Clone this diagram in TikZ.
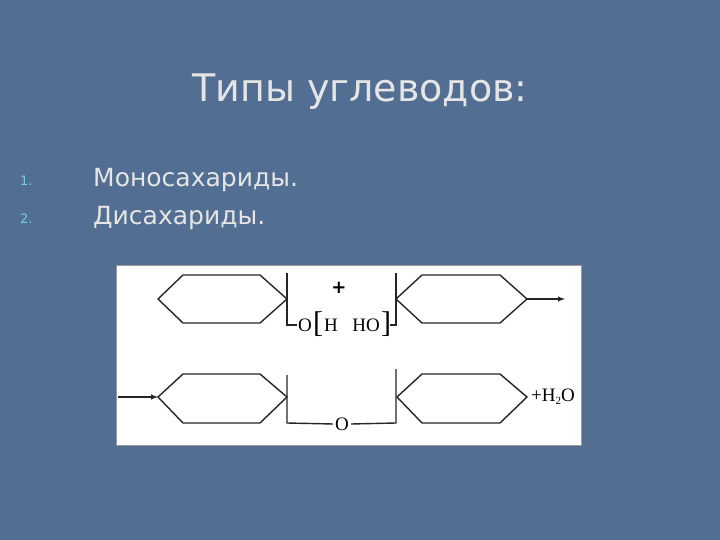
\documentclass[tikz,border=0pt]{standalone}
\usepackage{fontspec}
\setmainfont{DejaVu Sans}
\newfontfamily\serifchem{Liberation Serif}
\begin{document}
\begin{tikzpicture}[x=1pt,y=-1pt,
  bond/.style={line width=1.4pt,black!85},
  txt/.style={text=white!90!black,inner sep=0,anchor=west},
  chem/.style={font=\serifchem\fontsize{19}{19}\selectfont,inner sep=0}]
\useasboundingbox (0,0) rectangle (720,540);
\fill[color={rgb,255:red,82;green,110;blue,146}] (0,0) rectangle (720,540);
\node[font=\fontsize{38}{38}\selectfont,text=white!90!black] (title) at (360,92) {Типы углеводов:};
\node[txt,font=\fontsize{13}{13}\selectfont,text={rgb,255:red,120;green,200;blue,230}] (n1) at (20,181) {1.};
\node[txt,font=\fontsize{13}{13}\selectfont,text={rgb,255:red,120;green,200;blue,230}] (n2) at (20,219) {2.};
\node[txt,font=\fontsize{25}{25}\selectfont] (i1) at (93,180) {Моносахариды.};
\node[txt,font=\fontsize{25}{25}\selectfont] (i2) at (93,218) {Дисахариды.};
\fill[white,draw=black!40,line width=1pt] (116,265) rectangle (581,445);
% top row
\draw[bond] (158,299)--(183,275)--(260,275)--(287,299)--(260,323)--(183,323)--cycle;
\draw[bond] (396,299)--(422,275)--(500,275)--(527,299)--(500,323)--(422,323)--cycle;
\draw[bond] (287,273)--(287,325)--(297,325);
\node[chem,anchor=west] (oh) at (298,325) {O};
\node[chem,font=\serifchem\fontsize{30}{30}\selectfont] (lb) at (318,324) {[};
\node[chem] (h) at (331,325) {H};
\node[chem] (ho) at (366,325) {HO};
\node[chem,font=\serifchem\fontsize{30}{30}\selectfont] (rb) at (386,324) {]};
\draw[bond] (390,325)--(396,325)--(396,273);
\node[font=\bfseries\fontsize{18}{18}\selectfont,inner sep=0] (plus) at (339,288) {+};
\coordinate (a1) at (565,299);
\draw[bond,-latex] (527,299)--(a1);
% bottom row
\draw[bond] (158,397)--(183,374)--(260,374)--(287,397)--(260,423)--(183,423)--cycle;
\draw[bond] (397,397)--(422,374)--(500,374)--(527,397)--(500,423)--(422,423)--cycle;
\node[chem,fill=white,inner xsep=2pt] (o) at (342,424) {O};
\draw[bond] (287,375)--(287,423)--(o.west);
\draw[bond] (o.east)--(396,423)--(396,369);
\coordinate (a0) at (118,397);
\draw[bond,-latex] (a0)--(158,397);
\node[chem,anchor=west] (water) at (531,397) {+H\raisebox{-0.35ex}{\fontsize{11}{11}\selectfont 2}O};
\end{tikzpicture}
\end{document}
